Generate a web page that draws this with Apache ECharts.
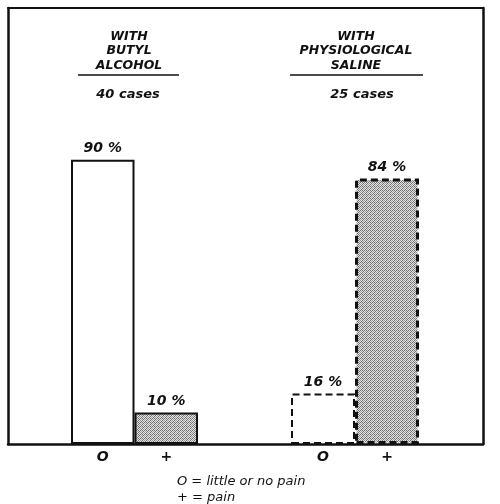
<!DOCTYPE html>
<html>
<head>
<meta charset="utf-8">
<script src="https://cdn.jsdelivr.net/npm/echarts@6/dist/echarts.min.js"></script>
<style>
  html, body { margin: 0; padding: 0; background: #fff; }
  #chart { width: 500px; height: 504px; }
</style>
</head>
<body>
<div id="chart"></div>
<script>
// data
const groupTitles = ['WITH\nBUTYL\nALCOHOL', 'WITH\nPHYSIOLOGICAL\nSALINE'];
const caseLabels = ['40 cases', '25 cases'];
const painCats = ['O', '+'];
const butylPct = [90, 10];
const salinePct = [16, 84];
const legendLines = ['O = little or no pain', '+ = pain'];

(function(){
  const FONT = 'DejaVu Sans';
  const YMAX = 138; // frame top, in %

  // stipple fill like the printed screen
  function stipple(){
    const c = document.createElement('canvas');
    c.width = 4; c.height = 4;
    const g = c.getContext('2d');
    g.fillStyle = '#e2e2e2';
    g.fillRect(0, 0, 4, 4);
    g.fillStyle = '#7a7a7a';
    const pts = [[0,0],[2,0],[1,1],[3,1],[0,2],[2,2],[1,3],[3,3]];
    pts.forEach(([x, y], k) => {
      g.fillStyle = k % 3 === 0 ? '#9a9a9a' : '#707070';
      g.fillRect(x, y, 1, 1);
    });
    return { image: c, repeat: 'repeat' };
  }
  const dots = stipple();

  const txt = { fontFamily: FONT, fontStyle: 'italic', fontWeight: 'bold', color: '#111' };

  function barItems(vals, dashed){
    return vals.map((v, i) => ({
      value: v,
      itemStyle: {
        color: i === 0 ? '#fff' : dots,
        borderColor: '#111',
        borderWidth: dashed ? (i === 0 ? 2 : 3) : 2,
        borderType: dashed ? [7, 4] : 'solid'
      }
    }));
  }

  function hiddenY(gi){
    return { type: 'value', gridIndex: gi, min: 0, max: YMAX, show: false };
  }

  function catX(gi){
    return {
      type: 'category', gridIndex: gi, data: painCats,
      axisLine: { show: false }, axisTick: { show: false },
      axisLabel: Object.assign({ fontSize: 14, margin: 6 }, txt)
    };
  }

  function edgeAxis(gi, pos, w){
    return {
      type: 'value', gridIndex: gi, position: pos, min: 0, max: 1,
      axisLine: { show: true, onZero: false, lineStyle: { color: '#111', width: w } },
      axisTick: { show: false }, axisLabel: { show: false }, splitLine: { show: false }
    };
  }

  function ttl(text, x, y, style){
    return { text, left: x, top: y, textAlign: style.align || 'center', padding: 0,
      textStyle: Object.assign({}, txt, style.t) };
  }

  const chart = echarts.init(document.getElementById('chart'));

  chart.setOption({
    backgroundColor: '#fff',
    animation: false,
    grid: [
      { left: 8, right: 17, top: 8, bottom: 60 },   // outer frame
      { left: 71, width: 127, top: 8, bottom: 60 }, // butyl
      { left: 291, width: 128, top: 8, bottom: 60 } // saline
    ],
    xAxis: [
      edgeAxis(0, 'bottom', 2.5),
      edgeAxis(0, 'top', 2),
      catX(1),
      catX(2)
    ],
    yAxis: [
      edgeAxis(0, 'left', 2.5),
      edgeAxis(0, 'right', 2.5),
      hiddenY(1),
      hiddenY(2)
    ],
    title: [
      ttl(groupTitles[0], 129, 29, { t: { fontSize: 12.5, lineHeight: 14.5 } }),
      ttl(groupTitles[1], 356, 29, { t: { fontSize: 12.5, lineHeight: 14.5 } }),
      ttl(caseLabels[0], 128, 88, { t: { fontSize: 13 } }),
      ttl(caseLabels[1], 362, 88, { t: { fontSize: 13 } }),
      ttl(legendLines.join('\n'), 177, 474, { align: 'left', t: { fontSize: 13, lineHeight: 16, fontWeight: 'normal' } })
    ],
    graphic: [
      { type: 'line', shape: { x1: 78, y1: 75, x2: 179, y2: 75 }, style: { stroke: '#111', lineWidth: 1.5 } },
      { type: 'line', shape: { x1: 290, y1: 75, x2: 423, y2: 75 }, style: { stroke: '#111', lineWidth: 1.5 } }
    ],
    series: [
      {
        type: 'bar', xAxisIndex: 2, yAxisIndex: 2, barWidth: '100%',
        data: barItems(butylPct, false),
        label: Object.assign({ show: true, position: 'top', distance: 4, fontSize: 14,
          formatter: p => p.value + ' %' }, txt)
      },
      {
        type: 'bar', xAxisIndex: 3, yAxisIndex: 3, barWidth: '100%',
        data: barItems(salinePct, true),
        label: Object.assign({ show: true, position: 'top', distance: 4, fontSize: 14,
          formatter: p => p.value + ' %' }, txt)
      }
    ]
  });
})();
</script>
</body>
</html>
